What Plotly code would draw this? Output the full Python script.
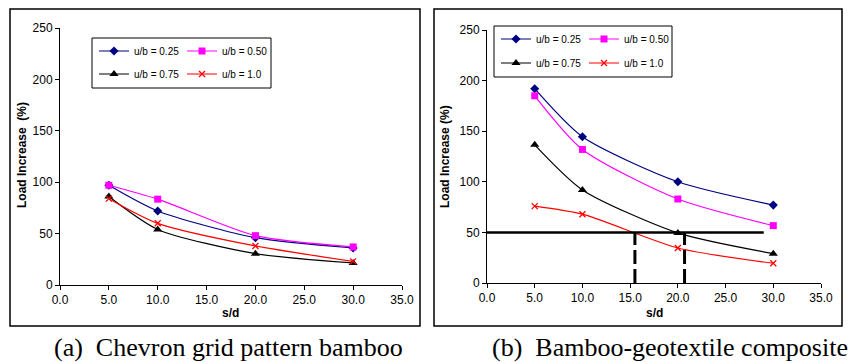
import plotly.graph_objects as go

# ---------------- data ----------------
sd = [5, 10, 20, 30]
series_names = ["u/b = 0.25", "u/b = 0.50", "u/b = 0.75", "u/b = 1.0"]

# (a) Chevron grid pattern bamboo
a_025 = [97, 72, 46, 36]
a_050 = [97, 83.5, 48, 37]
a_075 = [86, 54, 30.5, 21.5]
a_100 = [84, 60, 38, 23]

# (b) Bamboo-geotextile composite
b_025 = [192, 144.5, 100, 77]
b_050 = [185, 132, 83, 56.7]
b_075 = [136.5, 92, 49.5, 29]
b_100 = [76, 68, 34.6, 19.5]

# reference lines in (b)
ref_level = 50
ref_x_end = 29
ref_drop_x = [15.5, 20.7]

x_ticks = [0, 5, 10, 15, 20, 25, 30, 35]
x_tick_text = ["0.0", "5.0", "10.0", "15.0", "20.0", "25.0", "30.0", "35.0"]
y_ticks = [0, 50, 100, 150, 200, 250]

captions = ["(a)  Chevron grid pattern bamboo", "(b)  Bamboo-geotextile composite"]
y_titles = ["Load Increase  (%)", "Load Increase (%)"]

# ---------------- style ----------------
W, H = 857, 362
colors = ["#000080", "#FF00FF", "#000000", "#FF0000"]
symbols = ["diamond", "square", "triangle-up", "x-thin"]
msizes = [7, 7, 8, 6]

def px(x):
    return x / W

def py(y):
    return 1 - y / H

fig = go.Figure()

# legend rows: panel (a) rows -> legend, legend2 ; panel (b) rows -> legend3, legend4
panels = [
    ([a_025, a_050, a_075, a_100], "x", "y", ["legend", "legend", "legend2", "legend2"]),
    ([b_025, b_050, b_075, b_100], "x2", "y2", ["legend3", "legend3", "legend4", "legend4"]),
]
for vals, xa, ya, lgs in panels:
    for i, v in enumerate(vals):
        marker = dict(symbol=symbols[i], size=msizes[i], color=colors[i])
        if symbols[i] == "x-thin":
            marker["line"] = dict(color=colors[i], width=1.3)
        fig.add_trace(go.Scatter(
            x=sd, y=v, name=series_names[i], mode="lines+markers",
            line=dict(color=colors[i], width=1.2, shape="spline", smoothing=0.7),
            marker=marker, xaxis=xa, yaxis=ya, legend=lgs[i],
        ))

# reference lines in panel (b)
fig.add_trace(go.Scatter(x=[0, ref_x_end], y=[ref_level, ref_level], mode="lines",
                         line=dict(color="black", width=2.5), showlegend=False,
                         xaxis="x2", yaxis="y2", hoverinfo="skip"))
for xv in ref_drop_x:
    fig.add_trace(go.Scatter(x=[xv, xv], y=[0, ref_level], mode="lines",
                             line=dict(color="black", width=3, dash="14px,5px"),
                             showlegend=False, xaxis="x2", yaxis="y2", hoverinfo="skip"))

axis_font = dict(family="Liberation Sans, Arial, sans-serif", size=12, color="black")
common_x = dict(range=[0, 35], tickvals=x_ticks, ticktext=x_tick_text, showgrid=False,
                zeroline=False, showline=True, linecolor="black", linewidth=1,
                ticks="outside", ticklen=4, tickcolor="black", tickfont=axis_font)
common_y = dict(range=[0, 250], tickvals=y_ticks, showgrid=False, zeroline=False,
                showline=True, linecolor="black", linewidth=1, ticks="outside",
                ticklen=4, tickcolor="black", tickfont=axis_font)

legend_common = dict(orientation="h", entrywidth=43, bgcolor="rgba(0,0,0,0)",
                     borderwidth=0,
                     font=dict(family="Liberation Sans, Arial, sans-serif", size=10, color="black"),
                     xanchor="left", yanchor="middle", itemclick=False, itemdoubleclick=False)

fig.update_layout(
    width=W, height=H, margin=dict(l=0, r=0, t=0, b=0, autoexpand=False),
    paper_bgcolor="white", plot_bgcolor="white",
    showlegend=True,
    xaxis=dict(domain=[px(60), px(402)], anchor="y", **common_x),
    yaxis=dict(domain=[py(285), py(28)], anchor="x", **common_y),
    xaxis2=dict(domain=[px(487), px(821)], anchor="y2", **common_x),
    yaxis2=dict(domain=[py(283), py(30)], anchor="x2", **common_y),
    legend=dict(x=px(94), y=py(51), **legend_common),
    legend2=dict(x=px(94), y=py(74), **legend_common),
    legend3=dict(x=px(496), y=py(39), **legend_common),
    legend4=dict(x=px(496), y=py(63), **legend_common),
)

# legend boxes
for x0, x1, y0, y1 in [(92, 271, 38, 88), (494, 672, 26, 77)]:
    fig.add_shape(type="rect", xref="paper", yref="paper",
                  x0=px(x0), x1=px(x1), y0=py(y1), y1=py(y0),
                  line=dict(color="black", width=1), fillcolor="white", layer="below")

# panel borders
for x0, x1 in [(10, 420), (434, 842)]:
    fig.add_shape(type="rect", xref="paper", yref="paper",
                  x0=px(x0), x1=px(x1), y0=py(326), y1=py(9),
                  line=dict(color="black", width=1.5), fillcolor="rgba(0,0,0,0)", layer="below")

title_font = dict(family="Liberation Sans, Arial, sans-serif", size=12, color="black")
# axis titles
for xc, yc in [(231, 313), (654, 313)]:
    fig.add_annotation(text="<b>s/d</b>", xref="paper", yref="paper", x=px(xc), y=py(yc),
                       showarrow=False, font=title_font, xanchor="center", yanchor="middle")
for (xc, yc), t in zip([(22, 155), (445, 157)], y_titles):
    fig.add_annotation(text="<b>" + t.replace("  ", "&nbsp;&nbsp;") + "</b>",
                       xref="paper", yref="paper",
                       x=px(xc), y=py(yc), textangle=-90, showarrow=False,
                       font=title_font, xanchor="center", yanchor="middle")

# captions
cap_font = dict(family="Liberation Serif, Times New Roman, serif", size=26, color="black")
for (xc, cap) in [(52, captions[0]), (490, captions[1])]:
    fig.add_annotation(text=cap.replace("  ", "&nbsp;&nbsp;"), xref="paper", yref="paper",
                       x=px(xc), y=py(347), showarrow=False, font=cap_font,
                       xanchor="left", yanchor="middle")

fig.write_html("out.html", config={"displayModeBar": False},
               post_script="document.body.style.margin='0';")
